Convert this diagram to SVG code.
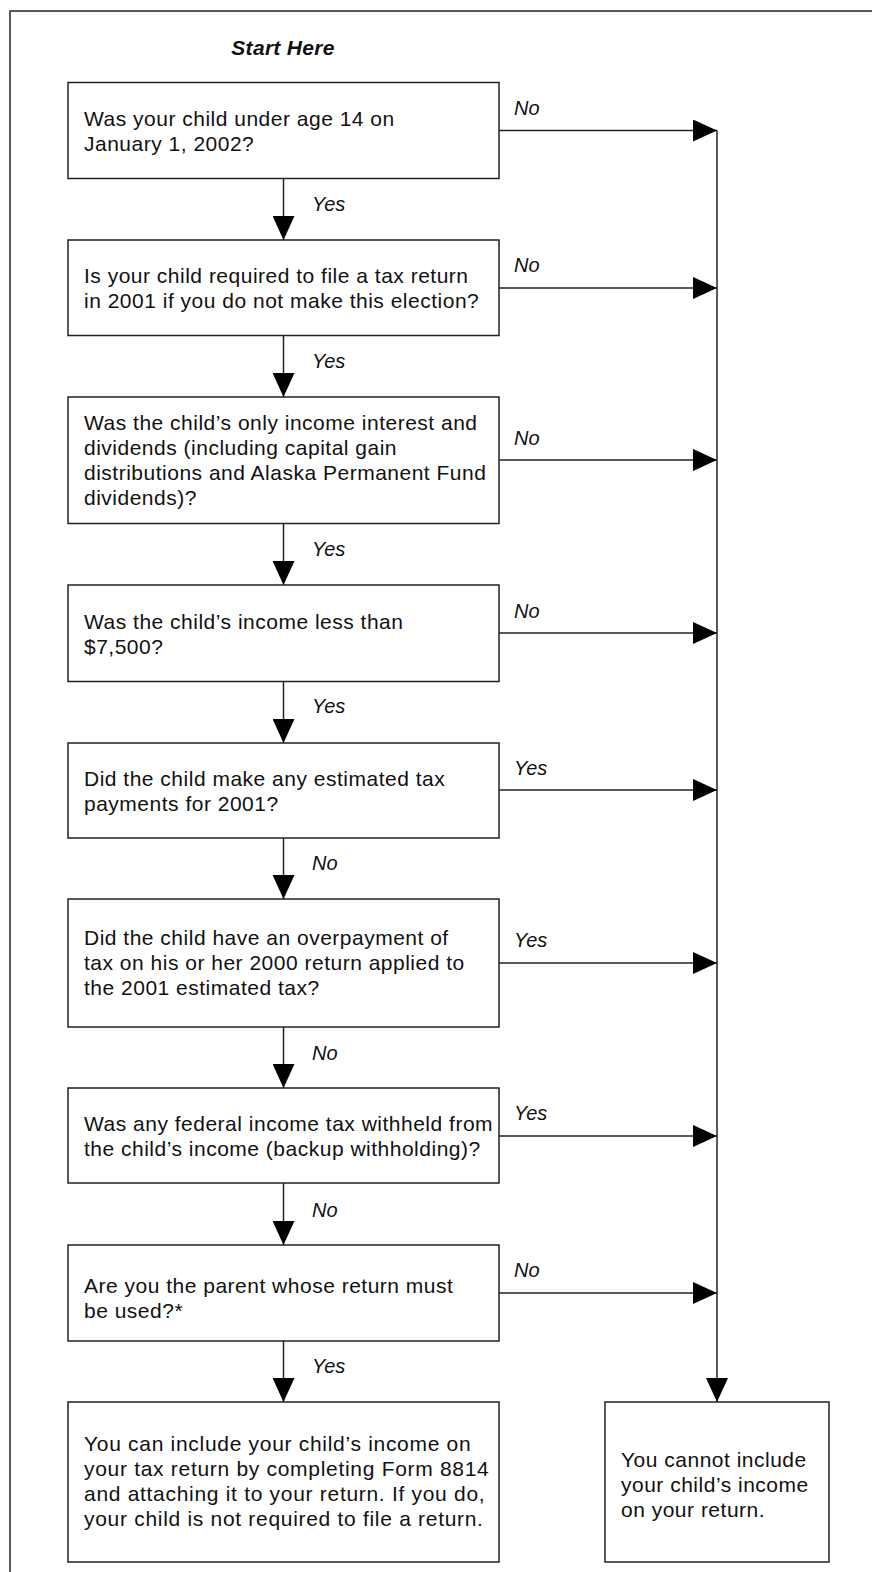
<svg xmlns="http://www.w3.org/2000/svg" width="872" height="1572" viewBox="0 0 872 1572">
<style>
  .frame{fill:none;stroke:#222;stroke-width:1.5}
  .box{fill:#fff;stroke:#222;stroke-width:1.5}
  .t{font-family:"Liberation Sans",Arial,Helvetica,sans-serif;font-size:21px;letter-spacing:0.5px;fill:#111}
  .w{letter-spacing:0.7px}
  .lbl{font-family:"Liberation Sans",Arial,Helvetica,sans-serif;font-size:20px;font-style:italic;fill:#111}
  .title{font-family:"Liberation Sans",Arial,Helvetica,sans-serif;font-size:21px;font-style:italic;font-weight:bold;letter-spacing:0.3px;fill:#111}
  .c{fill:none;stroke:#222;stroke-width:1.5}
</style>
<defs>
  <marker id="ah" viewBox="0 0 24 22" refX="24" refY="11" markerWidth="24" markerHeight="22" markerUnits="userSpaceOnUse" orient="auto">
    <path d="M0,0 L24,11 L0,22 Z" fill="#000"/>
  </marker>
</defs>

<path class="frame" d="M10,1572 V11 H872"/>

<text class="title" x="283" y="55" text-anchor="middle">Start Here</text>

<g id="connectors">
  <path class="c" d="M283.5,178.5 V240" marker-end="url(#ah)"/>
  <path class="c" d="M283.5,335.5 V397" marker-end="url(#ah)"/>
  <path class="c" d="M283.5,523.5 V585" marker-end="url(#ah)"/>
  <path class="c" d="M283.5,681.5 V743" marker-end="url(#ah)"/>
  <path class="c" d="M283.5,838 V899" marker-end="url(#ah)"/>
  <path class="c" d="M283.5,1027 V1088" marker-end="url(#ah)"/>
  <path class="c" d="M283.5,1183 V1245" marker-end="url(#ah)"/>
  <path class="c" d="M283.5,1341 V1402" marker-end="url(#ah)"/>

  <path class="c" d="M499,130.5 H717" marker-end="url(#ah)"/>
  <path class="c" d="M499,288 H717" marker-end="url(#ah)"/>
  <path class="c" d="M499,460 H717" marker-end="url(#ah)"/>
  <path class="c" d="M499,633 H717" marker-end="url(#ah)"/>
  <path class="c" d="M499,790 H717" marker-end="url(#ah)"/>
  <path class="c" d="M499,963 H717" marker-end="url(#ah)"/>
  <path class="c" d="M499,1136 H717" marker-end="url(#ah)"/>
  <path class="c" d="M499,1293 H717" marker-end="url(#ah)"/>

  <path class="c" d="M717,130.5 V1402" marker-end="url(#ah)"/>

  <text class="lbl" x="312" y="211">Yes</text>
  <text class="lbl" x="312" y="368">Yes</text>
  <text class="lbl" x="312" y="556">Yes</text>
  <text class="lbl" x="312" y="713">Yes</text>
  <text class="lbl" x="312" y="870">No</text>
  <text class="lbl" x="312" y="1060">No</text>
  <text class="lbl" x="312" y="1217">No</text>
  <text class="lbl" x="312" y="1373">Yes</text>

  <text class="lbl" x="514" y="115">No</text>
  <text class="lbl" x="514" y="272">No</text>
  <text class="lbl" x="514" y="445">No</text>
  <text class="lbl" x="514" y="618">No</text>
  <text class="lbl" x="514" y="775">Yes</text>
  <text class="lbl" x="514" y="947">Yes</text>
  <text class="lbl" x="514" y="1120">Yes</text>
  <text class="lbl" x="514" y="1277">No</text>
</g>

<g id="q1">
  <rect class="box" x="68" y="82.5" width="431" height="96"/>
  <text class="t" x="84" y="126">Was your child under age 14 on</text>
  <text class="t" x="84" y="151">January 1, 2002?</text>
</g>
<g id="q2">
  <rect class="box" x="68" y="240" width="431" height="95.5"/>
  <text class="t" x="84" y="283">Is your child required to file a tax return</text>
  <text class="t" x="84" y="308">in 2001 if you do not make this election?</text>
</g>
<g id="q3">
  <rect class="box" x="68" y="397" width="431" height="126.5"/>
  <text class="t" x="84" y="430">Was the child’s only income interest and</text>
  <text class="t" x="84" y="455">dividends (including capital gain</text>
  <text class="t" x="84" y="480">distributions and Alaska Permanent Fund</text>
  <text class="t" x="84" y="505">dividends)?</text>
</g>
<g id="q4">
  <rect class="box" x="68" y="585" width="431" height="96.5"/>
  <text class="t" x="84" y="629">Was the child’s income less than</text>
  <text class="t" x="84" y="654">$7,500?</text>
</g>
<g id="q5">
  <rect class="box" x="68" y="743" width="431" height="95"/>
  <text class="t" x="84" y="786">Did the child make any estimated tax</text>
  <text class="t" x="84" y="811">payments for 2001?</text>
</g>
<g id="q6">
  <rect class="box" x="68" y="899" width="431" height="128"/>
  <text class="t" x="84" y="945">Did the child have an overpayment of</text>
  <text class="t" x="84" y="970">tax on his or her 2000 return applied to</text>
  <text class="t" x="84" y="995">the 2001 estimated tax?</text>
</g>
<g id="q7">
  <rect class="box" x="68" y="1088" width="431" height="95"/>
  <text class="t" x="84" y="1131">Was any federal income tax withheld from</text>
  <text class="t" x="84" y="1156">the child’s income (backup withholding)?</text>
</g>
<g id="q8">
  <rect class="box" x="68" y="1245" width="431" height="96"/>
  <text class="t" x="84" y="1293">Are you the parent whose return must</text>
  <text class="t" x="84" y="1318">be used?*</text>
</g>
<g id="yes-result">
  <rect class="box" x="68" y="1402" width="431" height="160"/>
  <text class="t w" x="84" y="1451">You can include your child’s income on</text>
  <text class="t w" x="84" y="1476">your tax return by completing Form 8814</text>
  <text class="t w" x="84" y="1501">and attaching it to your return. If you do,</text>
  <text class="t w" x="84" y="1526">your child is not required to file a return.</text>
</g>
<g id="no-result">
  <rect class="box" x="605" y="1402" width="224" height="160"/>
  <text class="t" x="621" y="1467">You cannot include</text>
  <text class="t" x="621" y="1492">your child’s income</text>
  <text class="t" x="621" y="1517">on your return.</text>
</g>
</svg>
